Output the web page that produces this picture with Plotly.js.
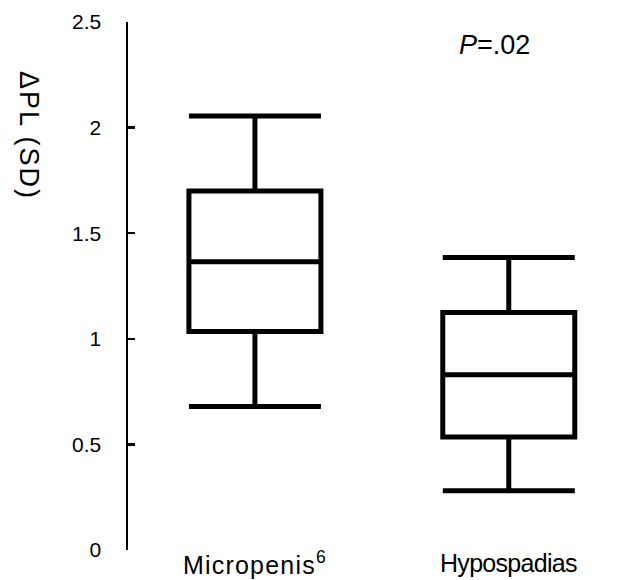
<!DOCTYPE html>
<html><head><meta charset="utf-8">
<script src="https://cdn.plot.ly/plotly-3.0.1.min.js"></script>
<style>html,body{margin:0;padding:0;background:#fff}</style>
</head><body>
<div id="chart" style="width:624px;height:580px"></div>
<script>
const categories = ["Micropenis<sup>6</sup>", "Hypospadias"];
const positions = [0, 1];
const lowerWhisker = [0.68, 0.28];
const q1 = [1.035, 0.535];
const median = [1.365, 0.83];
const q3 = [1.70, 1.125];
const upperWhisker = [2.055, 1.385];
const yTicks = [0, 0.5, 1, 1.5, 2, 2.5];
const yTickText = ["0", "0.5", "1", "1.5", "2", "2.5"];
const yTitle = "ΔPL (SD)";
const pText = "<i>P</i>=.02";

const font = "Liberation Sans, Arial, sans-serif";
const catSpacing = [1.2, -0.7];

const trace = {
  type: "box",
  x: positions,
  lowerfence: lowerWhisker,
  q1: q1,
  median: median,
  q3: q3,
  upperfence: upperWhisker,
  width: 0.52,
  whiskerwidth: 1,
  fillcolor: "#ffffff",
  line: {color: "#000000", width: 5},
  boxpoints: false,
  hoverinfo: "skip",
  showlegend: false
};

const catAnnotations = categories.map((c, i) => ({
  text: '<span style="letter-spacing:' + catSpacing[i] + 'px">' + c + '</span>',
  xref: "x", yref: "paper", x: positions[i], y: (550 - 563) / 528,
  xanchor: "center", yanchor: "middle", showarrow: false,
  font: {family: font, size: 25, color: "#000"}
}));

const layout = {
  width: 624, height: 580,
  margin: {l: 128, r: 1, t: 22, b: 30},
  paper_bgcolor: "#ffffff", plot_bgcolor: "#ffffff",
  font: {family: font, size: 22, color: "#000"},
  xaxis: {
    range: [-0.5, 1.45],
    showticklabels: false,
    showline: false, showgrid: false, zeroline: false, ticks: ""
  },
  yaxis: {
    range: [0, 2.5],
    tickvals: yTicks, ticktext: yTickText,
    showline: true, linecolor: "#000", linewidth: 2.5,
    ticks: "inside", ticklen: 7, tickwidth: 2.5, tickcolor: "#000",
    showgrid: false, zeroline: false,
    tickfont: {family: font, size: 21, color: "#000"},
    ticklabelstandoff: 20
  },
  annotations: [
    {text: '<span style="letter-spacing:2px">' + yTitle + '</span>', textangle: 90,
     xref: "paper", yref: "paper",
     x: 0, y: (550 - 135) / 528, xanchor: "center", yanchor: "middle", showarrow: false,
     font: {family: font, size: 27, color: "#000"}, xshift: -99},
    {text: pText, xref: "x", yref: "y", x: 0.945, y: 2.39,
     xanchor: "center", yanchor: "middle", showarrow: false,
     font: {family: font, size: 27, color: "#000"}}
  ].concat(catAnnotations)
};

Plotly.newPlot("chart", [trace], layout, {displayModeBar: false, staticPlot: true});
</script>
</body></html>
